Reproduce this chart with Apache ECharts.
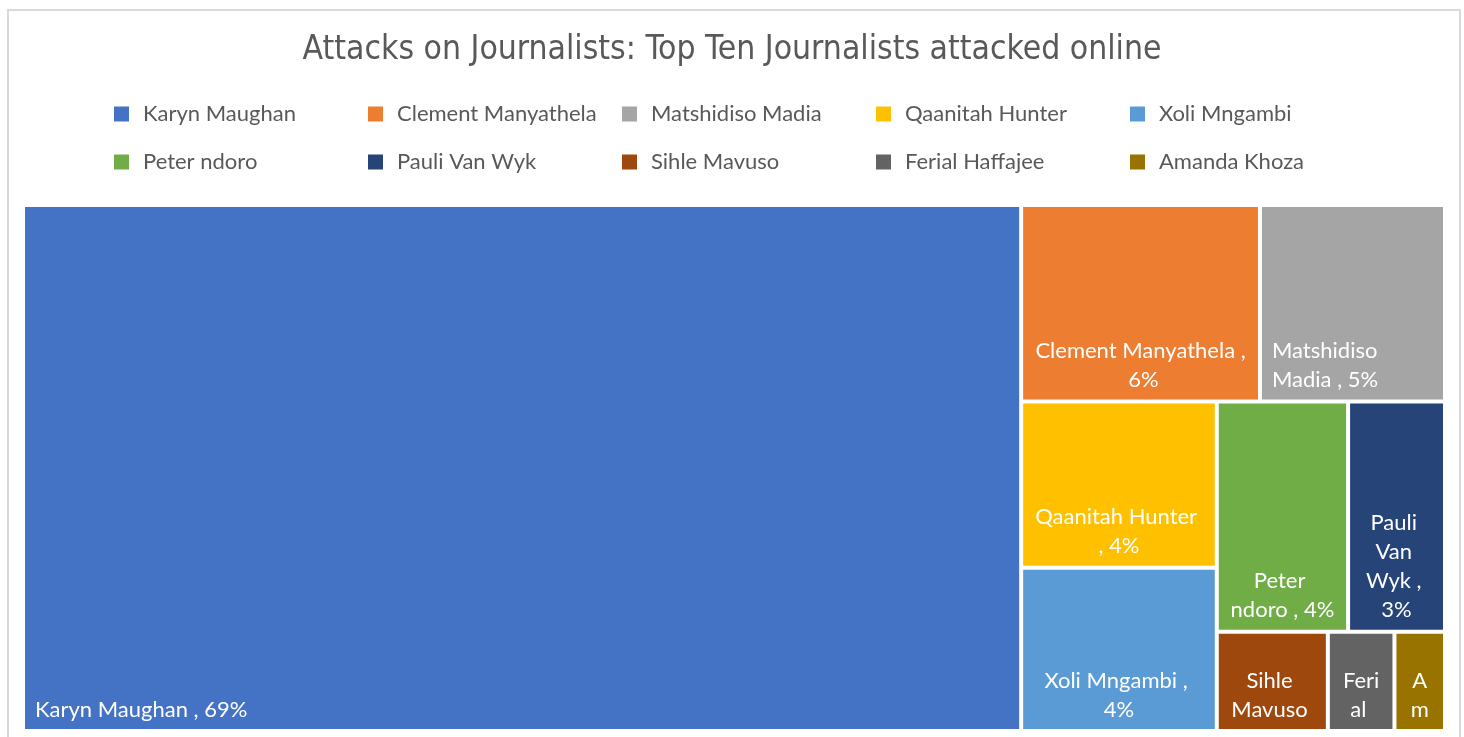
<!DOCTYPE html>
<html>
<head>
<meta charset="utf-8">
<title>Attacks on Journalists</title>
<script src="https://cdn.jsdelivr.net/npm/echarts@6/dist/echarts.min.js"></script>
<style>
  html, body { margin: 0; padding: 0; background: #fff; }
  #chart { width: 1464px; height: 737px; }
</style>
</head>
<body>
<div id="chart"></div>
<script>
var names = ['Karyn Maughan', 'Clement Manyathela', 'Matshidiso Madia', 'Qaanitah Hunter', 'Xoli Mngambi',
  'Peter ndoro', 'Pauli Van Wyk', 'Sihle Mavuso', 'Ferial Haffajee', 'Amanda Khoza'];
// share of all online attacks (percent)
var shares = [69.0, 6.17, 4.78, 4.27, 4.20, 3.97, 2.93, 1.45, 0.87, 0.66];
var palette = ['#4472C4', '#ED7D31', '#A5A5A5', '#FFC000', '#5B9BD5', '#70AD47', '#264478', '#9E480E', '#636363', '#997300'];

var labelFont = 'Lato';

var treeData = names.map(function (n, i) {
  var item = { name: n, value: shares[i], itemStyle: { color: palette[i] } };
  // excel keeps these two labels against the left edge
  if (i === 0 || i === 2) {
    item.label = { position: 'insideBottomLeft' };
  }
  return item;
});

var series = [{
  type: 'treemap',
  name: 'attacks',
  left: 25,
  top: 207,
  width: 1418,
  height: 522,
  roam: false,
  nodeClick: false,
  breadcrumb: { show: false },
  squareRatio: 1.26,
  itemStyle: { borderWidth: 0, gapWidth: 4, borderColor: '#fff' },
  levels: [{ itemStyle: { borderWidth: 0, gapWidth: 4, borderColor: '#fff' } }],
  label: {
    show: true,
    position: 'insideBottom',
    distance: 0,
    padding: [20, 10, 5, 10],
    color: '#fff',
    fontFamily: labelFont,
    fontSize: 22,
    lineHeight: 29,
    overflow: 'break',
    formatter: function (p) {
      return p.name + ' , ' + Math.round(p.value) + '%';
    }
  },
  emphasis: { disabled: true },
  data: treeData
}];

// empty series so that the legend has one entry per journalist
names.forEach(function (n, i) {
  series.push({
    type: 'custom',
    name: n,
    coordinateSystem: 'none',
    data: [],
    renderItem: function () { return null; },
    itemStyle: { color: palette[i] }
  });
});

var myChart = echarts.init(document.getElementById('chart'), null, { renderer: 'canvas' });

var option = {
  animation: false,
  color: palette,
  title: {
    text: 'Attacks on Journalists: Top Ten Journalists attacked online',
    left: 'center',
    top: 34,
    padding: 0,
    textStyle: {
      color: '#595959',
      fontFamily: "'Liberation Sans Narrow', 'DejaVu Sans Condensed', Roboto",
      fontSize: 33.4,
      fontWeight: 'normal'
    }
  },
  legend: {
    data: names,
    left: 114,
    top: 95,
    width: 1300,
    padding: 0,
    icon: 'rect',
    itemWidth: 15,
    itemHeight: 15,
    itemGap: 10,
    selectedMode: false,
    textStyle: {
      color: '#595959',
      fontFamily: labelFont,
      fontSize: 22,
      width: 215,
      lineHeight: 38,
      padding: [0, 0, 0, 9]
    }
  },
  graphic: [{
    type: 'rect',
    silent: true,
    z: -10,
    shape: { x: 8, y: 10, width: 1452, height: 760 },
    style: { fill: 'none', stroke: '#d9d9d9', lineWidth: 2 }
  }],
  series: series
};

myChart.setOption(option);
window.addEventListener('resize', myChart.resize);
</script>
</body>
</html>
